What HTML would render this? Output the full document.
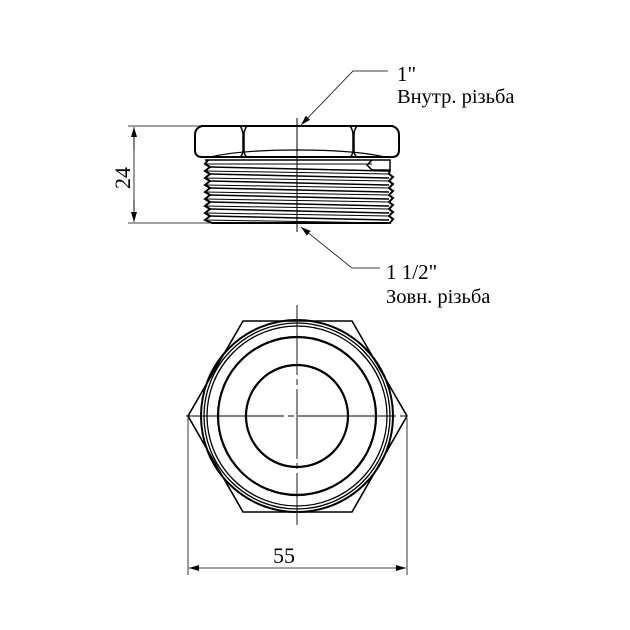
<!DOCTYPE html>
<html><head><style>body{margin:0;background:#fff}svg{display:block}text{font-family:"Liberation Serif","DejaVu Serif",serif;fill:#000}</style></head>
<body>
<svg width="630" height="630" viewBox="0 0 630 630" xmlns="http://www.w3.org/2000/svg">
<defs><marker id="a" markerWidth="10" markerHeight="6" refX="10" refY="3" orient="auto" markerUnits="userSpaceOnUse"><path d="M0,0 L10,3 L0,6z" fill="#000"/></marker></defs>
<g fill="none" stroke="#000">
<path d="M202,126 L392,126 Q399,128 399,135 L399,150 Q399,157 392,157 L202,157 Q195,157 195,150 L195,135 Q195,128 202,126Z" stroke-width="2"/>
<path d="M240,126 Q243,130 243,135 L243,150 Q243,155 240,157 M247,126 Q244,130 244,135 L244,150 Q244,155 247,157" stroke-width="1.5"/>
<path d="M350,126 Q353,130 353,135 L353,150 Q353,155 350,157 M357,126 Q354,130 354,135 L354,150 Q354,155 357,157" stroke-width="1.5"/>
<path d="M210,157 Q240,150 297,150 Q355,150 385,157" stroke-width="1.2"/>
<path d="M205,160 L372,160 L367,165 L372,170 L390,170 L390,160 L372,160" stroke-width="1.5"/>
<path d="M208,160 L205,164 L210,167 L205,171 L210,174 L205,178 L210,181 L205,185 L210,188 L205,192 L210,195 L205,199 L210,202 L205,206 L210,209 L205,213 L210,216 L205,220 L212,223 L390,223 L393,219 L389,216 L393,212 L389,209 L393,205 L389,202 L393,198 L389,195 L393,191 L389,188 L393,184 L389,181 L393,177 L389,174 L390,170" stroke-width="2"/>
<path d="M210,167 L389,171 M210,174 L389,178 M210,181 L389,185 M210,188 L389,192 M210,195 L389,199 M210,202 L389,206 M210,209 L389,213 M210,216 L389,220" stroke-width="1.5"/>
<path d="M205,164 L372,164 M205,171 L389,174 M205,178 L389,181 M205,185 L389,188 M205,192 L389,195 M205,199 L389,202 M205,206 L389,209 M205,213 L389,216 M205,220 L389,223" stroke-width="1"/>
<line x1="297" y1="118" x2="297" y2="232" stroke-width="1"/>
<line x1="128" y1="126" x2="200" y2="126" stroke-width="0.8"/>
<line x1="128" y1="223" x2="210" y2="223" stroke-width="0.8"/>
<line x1="134" y1="136" x2="134" y2="213" stroke-width="0.8"/>
<line x1="134" y1="150" x2="134" y2="127" stroke-width="0.8" marker-end="url(#a)"/>
<line x1="134" y1="200" x2="134" y2="222" stroke-width="0.8" marker-end="url(#a)"/>
<polyline points="388,71 353,71 301,125" stroke-width="0.8" marker-end="url(#a)"/>
<polyline points="380,268 352,268 301,227" stroke-width="0.8" marker-end="url(#a)"/>
<polygon points="243,321 352,321 407,416 352,512 243,512 188,416" stroke-width="1.6"/>
<circle cx="297" cy="416" r="96" stroke-width="2"/>
<circle cx="297" cy="416" r="93" stroke-width="1.3"/>
<circle cx="297" cy="416" r="90" stroke-width="1.3"/>
<circle cx="297" cy="416" r="79" stroke-width="2.2"/>
<circle cx="297" cy="416" r="51" stroke-width="2.2"/>
<line x1="297" y1="305" x2="297" y2="525" stroke-width="0.9" stroke-dasharray="70,4,6,4"/>
<line x1="186" y1="416" x2="409" y2="416" stroke-width="0.9" stroke-dasharray="98,4,6,4"/>
<line x1="188" y1="418" x2="188" y2="575" stroke-width="0.8"/>
<line x1="407" y1="418" x2="407" y2="575" stroke-width="0.8"/>
<line x1="200" y1="568" x2="189" y2="568" stroke-width="0.8" marker-end="url(#a)"/>
<line x1="395" y1="568" x2="406" y2="568" stroke-width="0.8" marker-end="url(#a)"/>
<line x1="198" y1="568" x2="397" y2="568" stroke-width="0.8"/>
</g>
<text x="273" y="563" font-size="22">55</text>
<text transform="translate(130,189) rotate(-90)" font-size="22">24</text>
<text x="397" y="81" font-size="21">1"</text>
<text x="397" y="103" font-size="20.5">Внутр. різьба</text>
<text x="386" y="279" font-size="21">1 1/2"</text>
<text x="386" y="303" font-size="20.5">Зовн. різьба</text>
</svg>
</body></html>
